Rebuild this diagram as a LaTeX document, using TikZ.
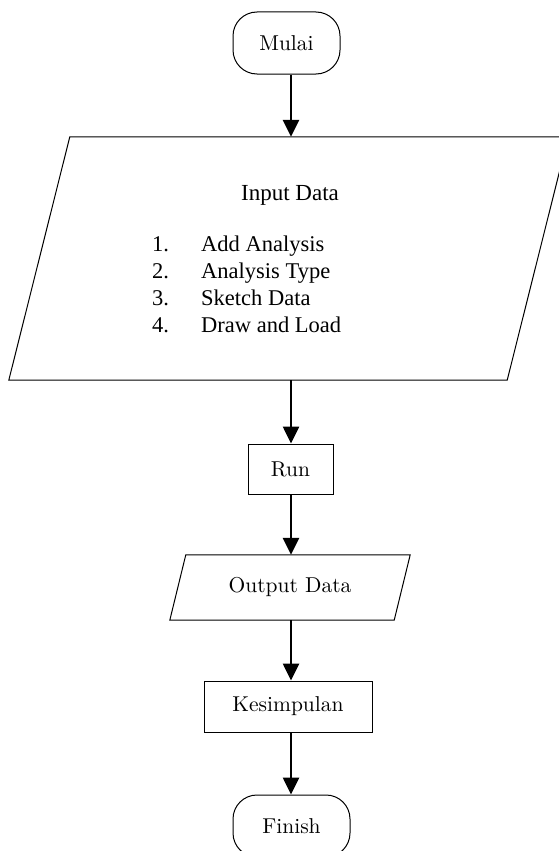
\documentclass[tikz,border=0pt]{standalone}
\usepackage{fontspec}
\newfontfamily\timesf{Liberation Serif}
\newfontfamily\lmten[Extension=.otf]{lmroman10-regular}
\usetikzlibrary{arrows.meta,calc}
\begin{document}
\begin{tikzpicture}[x=1pt,y=-1pt,
  box/.style={draw,line width=1pt,inner sep=0pt,font=\lmten\fontsize{21.5}{26}\selectfont},
  term/.style={box,rounded corners=24pt},
  arr/.style={line width=2.6pt,-{Triangle[length=17pt,width=16pt]}},
  outline/.style={line width=1pt}]
\useasboundingbox (0,0) rectangle (559,851);
\clip (0,0) rectangle (559,851);
\coordinate (ax) at (291,0);
% terminal start
\node[term,minimum width=107pt,minimum height=62pt] (mulai) at (286.5,43) {Mulai};
% input parallelogram
\node[inner sep=0pt,minimum width=498pt,minimum height=243pt] (input) at (288.5,258.5) {};
\draw[outline] ([xshift=-30.5pt]input.south west) -- ([xshift=-30.5pt]input.south east)
  -- ([xshift=30.5pt]input.north east) -- ([xshift=30.5pt]input.north west) -- cycle;
\node[anchor=base,inner sep=0pt,font=\timesf\fontsize{23}{27}\selectfont] (intitle) at (290,200) {Input Data};
\node[anchor=base west,inner sep=0pt,font=\timesf\fontsize{22.5}{27}\selectfont] (inlist) at (152,251)
 {\begin{tabular}[t]{@{}p{49pt}@{}l@{}}
 1. & Add Analysis\\
 2. & Analysis Type\\
 3. & Sketch Data\\
 4. & Draw and Load
 \end{tabular}};
% run
\node[box,minimum width=85pt,minimum height=50pt] (run) at (290.5,469) {Run};
% output parallelogram
\node[inner sep=0pt,minimum width=224pt,minimum height=65pt,font=\lmten\fontsize{21.5}{26}\selectfont] (output) at (290,587.5) {Output Data};
\draw[outline] ([xshift=-8pt]output.south west) -- ([xshift=-8pt]output.south east)
  -- ([xshift=8pt]output.north east) -- ([xshift=8pt]output.north west) -- cycle;
% kesimpulan
\node[box,minimum width=168pt,minimum height=51pt] (kes) at (288,706.5) {Kesimpulan};
% finish
\node[term,minimum width=117pt,minimum height=62pt] (finish) at (291.5,826) {Finish};
% arrows
\draw[arr] (mulai.south -| ax) -- (input.north -| ax);
\draw[arr] (input.south -| ax) -- (run.north -| ax);
\draw[arr] (run.south -| ax) -- (output.north -| ax);
\draw[arr] (output.south -| ax) -- (kes.north -| ax);
\draw[arr] (kes.south -| ax) -- (finish.north -| ax);
\end{tikzpicture}
\end{document}
